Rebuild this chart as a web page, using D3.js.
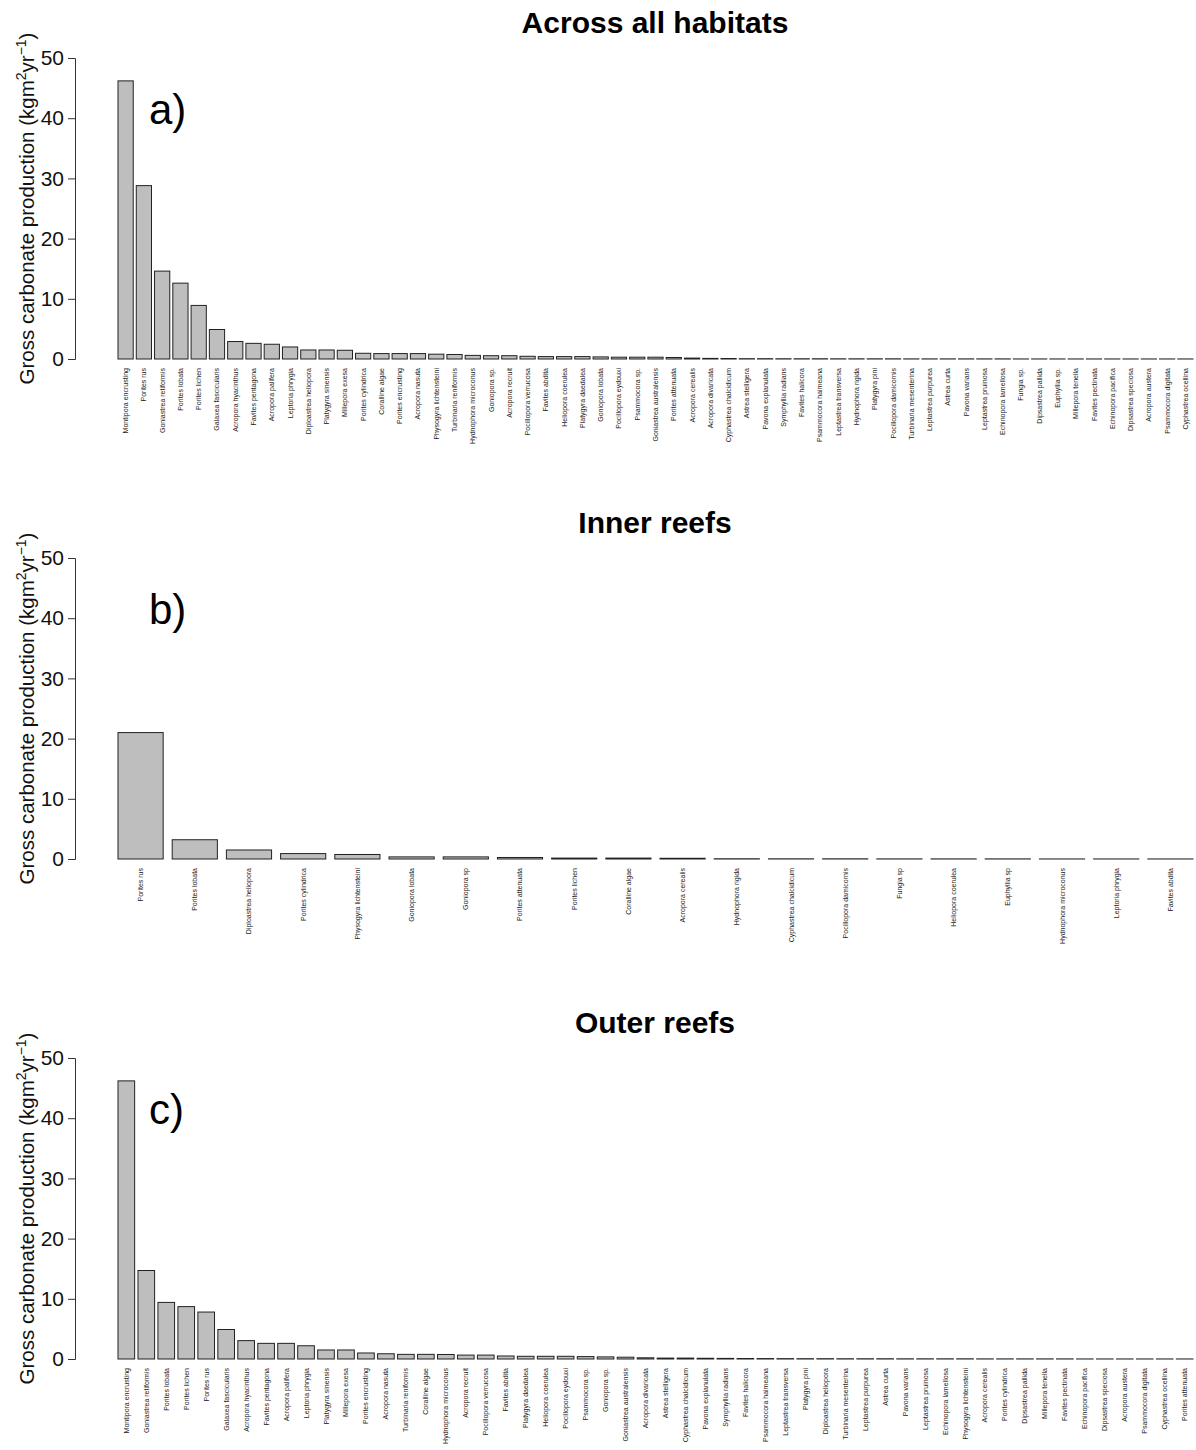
<!DOCTYPE html>
<html>
<head>
<meta charset="utf-8">
<script src="https://cdn.jsdelivr.net/npm/d3@7"></script>
<style>
  body { margin: 0; background: #fff; }
  svg { display: block; font-family: "Liberation Sans", Arial, sans-serif; }
</style>
</head>
<body>
<svg width="1196" height="1450"></svg>
<script>
// Species names and production values, one pair of arrays per panel
var allNames = ["Montipora encrusting", "Porites rus", "Goniastrea retiformis", "Porites lobata", "Porites lichen",
  "Galaxea fascicularis", "Acropora hyacinthus", "Favites pentagona", "Acropora palifera", "Leptoria phrygia",
  "Diploastrea heliopora", "Platygyra sinensis", "Millepora exesa", "Porites cylindrica", "Coralline algae",
  "Porites encrusting", "Acropora nasuta", "Physogyra lichtensteini", "Turbinaria reniformis", "Hydnophora microconus",
  "Goniopora sp.", "Acropora recruit", "Pocillopora verrucosa", "Favites abdita", "Heliopora coerulea",
  "Platygyra daedalea", "Goniopora lobata", "Pocillopora eydouxi", "Psammocora sp.", "Goniastrea australensis",
  "Porites attenuata", "Acropora cerealis", "Acropora divaricata", "Cyphastrea chalcidicum", "Astrea stelligera",
  "Pavona explanulata", "Symphyllia radians", "Favites halicora", "Psammocora haimeana", "Leptastrea transversa",
  "Hydnophora rigida", "Platygyra pini", "Pocillopora damicornis", "Turbinaria mesenterina", "Leptastrea purpurea",
  "Astrea curta", "Pavona varians", "Leptastrea pruinosa", "Echinopora lamellosa", "Fungia sp.",
  "Dipsastrea pallida", "Euphyllia sp.", "Millepora tenella", "Favites pectinata", "Echinopora pacifica",
  "Dipsastrea speciosa", "Acropora austera", "Psammocora digitata", "Cyphastrea ocellina"];
var allValues = [46.2, 28.8, 14.6, 12.6, 8.9, 4.9, 2.9, 2.6, 2.45, 2.0,
  1.5, 1.5, 1.45, 0.95, 0.9, 0.9, 0.9, 0.8, 0.75, 0.6,
  0.55, 0.55, 0.45, 0.4, 0.4, 0.4, 0.35, 0.3, 0.3, 0.3,
  0.25, 0.15, 0.1, 0.08, 0.05, 0.05, 0.04, 0.04, 0.04, 0.03,
  0.03, 0.03, 0.03, 0.02, 0.02, 0.02, 0.02, 0.02, 0.02, 0.01,
  0.01, 0.01, 0.01, 0.01, 0.01, 0.01, 0.01, 0.01, 0.01];

var innerNames = ["Porites rus", "Porites lobata", "Diploastrea heliopora", "Porites cylindrica", "Physogyra lichtensteini",
  "Goniopora lobata", "Goniopora sp", "Porites attenuata", "Porites lichen", "Coralline algae",
  "Acropora cerealis", "Hydnophora rigida", "Cyphastrea chalcidicum", "Pocillopora damicornis", "Fungia sp",
  "Heliopora coerulea", "Euphyllia sp", "Hydnophora microconus", "Leptoria phrygia", "Favites abdita"];
var innerValues = [21.0, 3.2, 1.5, 0.9, 0.75, 0.35, 0.35, 0.25, 0.15, 0.15,
  0.12, 0.04, 0.03, 0.03, 0.02, 0.02, 0.02, 0.01, 0.01, 0.01];

var outerNames = ["Montipora encrusting", "Goniastrea retiformis", "Porites lobata", "Porites lichen", "Porites rus",
  "Galaxea fascicularis", "Acropora hyacinthus", "Favites pentagona", "Acropora palifera", "Leptoria phrygia",
  "Platygyra sinensis", "Millepora exesa", "Porites encrusting", "Acropora nasuta", "Turbinaria reniformis",
  "Coralline algae", "Hydnophora microconus", "Acropora recruit", "Pocillopora verrucosa", "Favites abdita",
  "Platygyra daedalea", "Heliopora coerulea", "Pocillopora eydouxi", "Psammocora sp.", "Goniopora sp.",
  "Goniastrea australensis", "Acropora divaricata", "Astrea stelligera", "Cyphastrea chalcidicum", "Pavona explanulata",
  "Symphyllia radians", "Favites halicora", "Psammocora haimeana", "Leptastrea transversa", "Platygyra pini",
  "Diploastrea heliopora", "Turbinaria mesenterina", "Leptastrea purpurea", "Astrea curta", "Pavona varians",
  "Leptastrea pruinosa", "Echinopora lamellosa", "Physogyra lichtensteini", "Acropora cerealis", "Porites cylindrica",
  "Dipsastrea pallida", "Millepora tenella", "Favites pectinata", "Echinopora pacifica", "Dipsastrea speciosa",
  "Acropora austera", "Psammocora digitata", "Cyphastrea ocellina", "Porites attenuata"];
var outerValues = [46.2, 14.7, 9.4, 8.7, 7.8, 4.9, 3.05, 2.6, 2.6, 2.2,
  1.5, 1.5, 1.0, 0.87, 0.77, 0.77, 0.75, 0.65, 0.65, 0.5,
  0.45, 0.45, 0.45, 0.4, 0.35, 0.3, 0.2, 0.15, 0.15, 0.12,
  0.1, 0.08, 0.07, 0.06, 0.05, 0.05, 0.04, 0.04, 0.04, 0.03,
  0.03, 0.03, 0.03, 0.02, 0.02, 0.02, 0.02, 0.02, 0.01, 0.01,
  0.01, 0.01, 0.01, 0.01];

var yTicks = [0, 10, 20, 30, 40, 50];
var panels = [
  { title: "Across all habitats", letter: "a)", names: allNames, values: allValues },
  { title: "Inner reefs", letter: "b)", names: innerNames, values: innerValues },
  { title: "Outer reefs", letter: "c)", names: outerNames, values: outerValues }
];

var svg = d3.select("svg");

// panel geometry (each panel is 500px tall)
var axisX = 75, barLeft = 118, barRight = 1193, titleX = 655;
var top0 = 58, bottom0 = 359;

panels.forEach(function (p, i) {
  var off = i * 500;
  var g = svg.append("g").attr("transform", "translate(0," + off + ")");

  var x = d3.scaleBand()
    .domain(p.names)
    .range([barLeft, barRight])
    .paddingInner(1 / 6)
    .paddingOuter(0);

  var y = d3.scaleLinear()
    .domain([0, 50])
    .range([bottom0, top0]);

  // title
  g.append("text")
    .attr("x", titleX)
    .attr("y", 33)
    .attr("text-anchor", "middle")
    .style("font-size", "30px")
    .style("font-weight", "bold")
    .text(p.title);

  // bars
  g.selectAll("rect.bar")
    .data(p.values)
    .enter().append("rect")
    .attr("class", "bar")
    .attr("x", function (d, j) { return x(p.names[j]); })
    .attr("width", x.bandwidth())
    .attr("y", function (d) { return y(d); })
    .attr("height", function (d) { return y(0) - y(d); })
    .attr("fill", "#bebebe")
    .attr("stroke", "#222")
    .attr("stroke-width", 1);

  // y axis
  var yAxis = d3.axisLeft(y).tickValues(yTicks).tickSize(7).tickPadding(4);
  var ax = g.append("g")
    .attr("transform", "translate(" + axisX + ",0)")
    .call(yAxis);
  ax.select(".domain").attr("stroke", "#333");
  ax.selectAll(".tick line").attr("stroke", "#333");
  ax.selectAll(".tick text")
    .style("font-size", "21px")
    .style("font-family", "'Liberation Sans', Arial, sans-serif")
    .attr("fill", "#111");

  // species labels, rotated like las=2
  g.selectAll("text.sp")
    .data(p.names)
    .enter().append("text")
    .attr("class", "sp")
    .attr("transform", function (d) {
      return "translate(" + (x(d) + x.bandwidth() / 2 + 2.5) + "," + (bottom0 + 9) + ") rotate(-90)";
    })
    .attr("text-anchor", "end")
    .style("font-size", "7px")
    .attr("fill", "#222")
    .text(function (d) { return d; });

  // y label with superscripts
  var yl = g.append("text")
    .attr("transform", "translate(34," + ((top0 + bottom0) / 2) + ") rotate(-90)")
    .attr("text-anchor", "middle")
    .style("font-size", "20.5px")
    .attr("fill", "#111");
  yl.append("tspan").text("Gross carbonate production (kgm");
  yl.append("tspan").attr("dy", -8).style("font-size", "14px").text("2");
  yl.append("tspan").attr("dy", 8).text("yr");
  yl.append("tspan").attr("dy", -8).style("font-size", "14px").text("\u22121");
  yl.append("tspan").attr("dy", 8).text(")");

  // panel letter
  g.append("text")
    .attr("x", 149)
    .attr("y", 124)
    .style("font-size", "42px")
    .attr("fill", "#000")
    .text(p.letter);
});
</script>
</body>
</html>
